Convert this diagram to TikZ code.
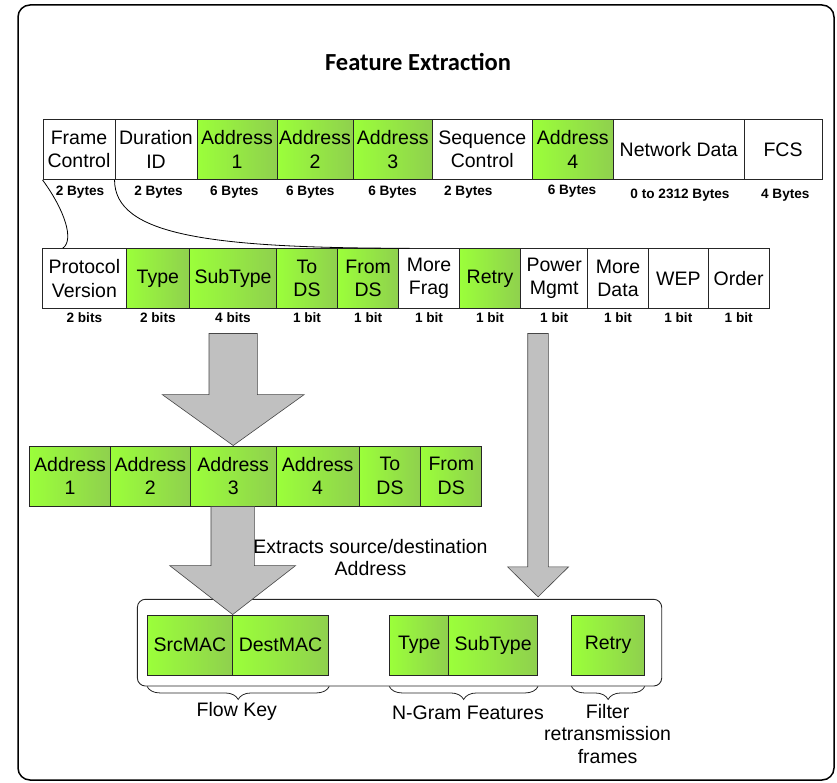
\documentclass[tikz,border=0pt]{standalone}
\usepackage{fontspec}
\setmainfont{Liberation Sans}
\newfontfamily\titlefont{Carlito}
\usetikzlibrary{calc,decorations.pathreplacing}

\definecolor{gL}{RGB}{155,255,58}
\definecolor{gR}{RGB}{143,208,78}
\definecolor{arrowgray}{RGB}{192,192,192}
\definecolor{arrowedge}{RGB}{70,70,70}

\newcommand\fieldfont{\fontsize{19.5}{23.5}\selectfont}
\newcommand\sizefont{\fontsize{13.6}{15}\selectfont\bfseries}

\tikzset{
  field/.style={draw=black!85, line width=0.9pt, rectangle, inner sep=0pt,
    align=center, font=\fieldfont, fill=white},
  gfield/.style={field, left color=gL, middle color=gL!82!gR, right color=gR},
  sizelabel/.style={font=\sizefont, inner sep=0pt},
  blockarrow/.style={fill=arrowgray, draw=arrowedge, line width=0.6pt, line join=miter},
  caption/.style={font=\fieldfont, align=center, inner sep=0pt},
  zoomline/.style={draw=black, line width=0.8pt},
  bracepath/.style={draw=black!85, line width=0.8pt, decorate,
    decoration={brace, mirror, amplitude=13pt}},
}

% field box: style, name, centre x, centre y, width, height, text
\newcommand\fieldnode[7]{\node[#1, minimum width=#5pt, minimum height=#6pt] (#2) at (#3,#4) {#7};}

% block arrow: shaft start, tip, shaft half width, head half width, head length
\newcommand\blockarrow[5]{%
  \draw[blockarrow] let \p1=(#1), \p2=(#2) in
    ({\x2-#3pt},\y1) -- ({\x2+#3pt},\y1) -- ({\x2+#3pt},{\y2+#5pt})
    -- ({\x2+#4pt},{\y2+#5pt}) -- (\p2) -- ({\x2-#4pt},{\y2+#5pt})
    -- ({\x2-#3pt},{\y2+#5pt}) -- cycle;}

\begin{document}
\begin{tikzpicture}[x=1pt, y=-1pt]
\useasboundingbox (0,0) rectangle (837,783);

% outer frame and heading
\node[draw=black, line width=1.5pt, rounded corners=12pt, minimum width=816pt,
  minimum height=775pt, inner sep=0pt] (frame) at (426,392.5) {};
\node[font=\titlefont\bfseries\fontsize{24.5}{28}\selectfont, inner sep=0pt] (title) at (418,62) {Feature Extraction};

% 802.11 MAC header
\fieldnode{field}{fc}{79}{149.5}{72}{60}{Frame\\Control}
\fieldnode{field}{dur}{156}{149.5}{82}{60}{Duration\\ID}
\fieldnode{gfield}{aa}{237}{149.5}{80}{60}{Address\\1}
\fieldnode{gfield}{ab}{315}{149.5}{76}{60}{Address\\2}
\fieldnode{gfield}{ac}{392.75}{149.5}{79.5}{60}{Address\\3}
\fieldnode{field}{seq}{482.25}{149.5}{99.5}{60}{Sequence\\Control}
\fieldnode{gfield}{ad}{572.75}{149.5}{81.5}{60}{Address\\4}
\fieldnode{field}{nd}{678.75}{149.5}{130.5}{60}{Network Data}
\fieldnode{field}{fcs}{783}{149.5}{78}{60}{FCS}

\node[sizelabel] (fcB)  at (80,191.7)    {2 Bytes};
\node[sizelabel] (durB) at (158.5,191.7) {2 Bytes};
\node[sizelabel] (aaB)  at (234.3,191.7) {6 Bytes};
\node[sizelabel] (abB)  at (310.3,191.7) {6 Bytes};
\node[sizelabel] (acB)  at (392.5,191.7) {6 Bytes};
\node[sizelabel] (seqB) at (468.3,191.7) {2 Bytes};
\node[sizelabel] (adB)  at (572,190.7)   {6 Bytes};
\node[sizelabel] (ndB)  at (680,195)     {0 to 2312 Bytes};
\node[sizelabel] (fcsB) at (785.3,195)   {4 Bytes};

% Frame Control sub-fields
\fieldnode{field}{pv}{84.35}{278.35}{83.3}{59.3}{Protocol\\Version}
\fieldnode{gfield}{ty}{157.85}{278.35}{63.7}{59.3}{Type}
\fieldnode{gfield}{st}{233}{278.35}{86.6}{59.3}{SubType}
\fieldnode{gfield}{tods}{307}{278.35}{61.4}{59.3}{To\\DS}
\fieldnode{gfield}{frds}{368.2}{278.35}{61}{59.3}{From\\DS}
\fieldnode{field}{mf}{429}{278.35}{60.6}{59.3}{More\\Frag}
\fieldnode{gfield}{re}{490}{278.35}{61.4}{59.3}{Retry}
\fieldnode{field}{pm}{554.2}{278.35}{67}{59.3}{Power\\Mgmt}
\fieldnode{field}{md}{618}{278.35}{60.6}{59.3}{More\\Data}
\fieldnode{field}{wep}{678.3}{278.35}{60}{59.3}{WEP}
\fieldnode{field}{ord}{738.65}{278.35}{60.7}{59.3}{Order}

\foreach \f/\t in {pv/2 bits, ty/2 bits, st/4 bits, tods/1 bit, frds/1 bit,
                   mf/1 bit, re/1 bit, pm/1 bit, md/1 bit, wep/1 bit, ord/1 bit}
  \node[sizelabel] (\f B) at ($(\f.south)+(0,9.3)$) {\t};

% Frame Control expands into its sub-fields
\draw[zoomline] (fc.south west) .. controls ($(fc.south west)+(22,30)$) and ($(fc.south west)+(32,60)$) .. ($(pv.north west)+(20.5,0)$);
\draw[zoomline] (dur.south west) .. controls ($(dur.south west)+(0,55)$) and ($(mf.north west)+(-190,0)$) .. ($(mf.north west)+(11.3,0)$);

% selected address and DS fields
\fieldnode{gfield}{ba}{70}{476}{80.8}{60}{Address\\1}
\fieldnode{gfield}{bb}{150.4}{476}{80}{60}{Address\\2}
\fieldnode{gfield}{bc}{233.2}{476}{85.6}{60}{Address\\3}
\fieldnode{gfield}{bd}{317.65}{476}{83.3}{60}{Address\\4}
\fieldnode{gfield}{be}{390}{476}{61.4}{60}{To\\DS}
\fieldnode{gfield}{bf}{451.25}{476}{61.1}{60}{From\\DS}

% extracted feature set
\node[draw=black!85, line width=0.9pt, rounded corners=8pt, minimum width=524.3pt,
  minimum height=86.7pt, inner sep=0pt] (box) at (399.55,642.65) {};
\fieldnode{gfield}{src}{189.85}{645}{84.7}{60}{SrcMAC}
\fieldnode{gfield}{dst}{280.5}{645}{96.6}{60}{DestMAC}
\fieldnode{gfield}{nty}{419.2}{645}{59}{60}{Type}
\fieldnode{gfield}{nst}{493.15}{645}{88.9}{60}{SubType}
\fieldnode{gfield}{nre}{608.1}{645}{72.4}{60}{Retry}

% block arrows
\coordinate (ngtip) at ($(box.north west)+(401.1,-2)$);
\blockarrow{$(st.south)+(0,25)$}{bc.north}{24.2}{71}{51}
\blockarrow{bc.south}{src.north east}{21.7}{63}{49}
\blockarrow{$(pm.south -| ngtip)+(0,25)$}{ngtip}{10.3}{30.5}{30}

\node[caption, font=\fontsize{19.5}{21.5}\selectfont] (extract) at (370.5,557.3) {Extracts source/destination\\Address};

% groupings
\draw[bracepath] (src.west |- box.south) -- (dst.east |- box.south);
\draw[bracepath] (nty.west |- box.south) -- (nst.east |- box.south);
\draw[bracepath] (nre.west |- box.south) -- (nre.east |- box.south);

\node[caption] (flowkey) at (236.8,711) {Flow Key};
\node[caption] (ngram) at (468,713) {N-Gram Features};
\node[caption, font=\fontsize{19.5}{22.5}\selectfont] (filter) at (607.6,734) {Filter\\retransmission\\frames};
\end{tikzpicture}
\end{document}
